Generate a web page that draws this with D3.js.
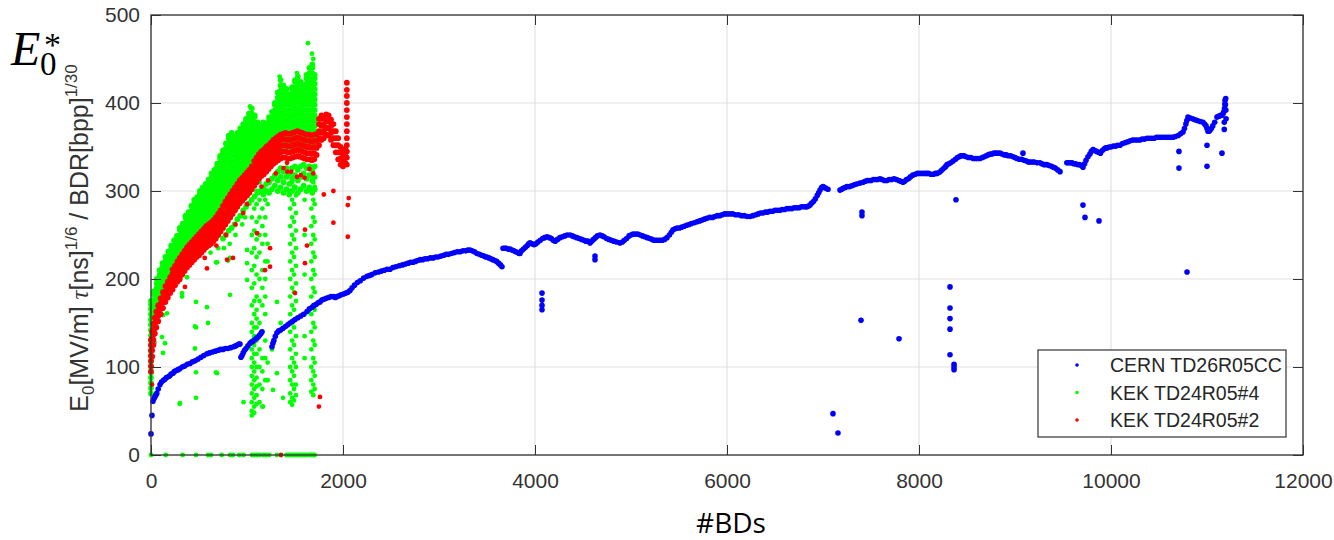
<!DOCTYPE html>
<html>
<head>
<meta charset="utf-8">
<script src="https://cdn.jsdelivr.net/npm/d3@7"></script>
<style>
  body { margin: 0; background: #fff; }
  svg { display: block; font-family: "Liberation Sans", Arial, sans-serif; }
</style>
</head>
<body>
<svg id="chart" width="1334" height="540"></svg>
<script>
// ---------------- data ----------------
const xTicks = [0, 2000, 4000, 6000, 8000, 10000, 12000];
const yTicks = [0, 100, 200, 300, 400, 500];
const seriesNames = ["CERN TD26R05CC", "KEK TD24R05#4", "KEK TD24R05#2"];
const seriesColors = ["#0000ff", "#00ff00", "#ff0000"];

// CERN TD26R05CC: conditioning trace [#BDs, E0*]
const cernTrace = [
  [0,24],[10,45],[20,61],[30,64],[40,66],[50,68],[60,70],[75,75],[94,80],[110,83],[130,85],[145,86],
  [160,88],[180,89],[195,90],[210,92],[229,93],[245,95],[265,96],[282,97],[300,98],[325,100],[350,101],
  [378,103],[406,104],[432,106],[460,107],[490,109],[520,111],[550,113],[583,115],[610,116],[640,117],
  [670,118],[700,119],[725,120],[750,120],[775,121],[800,121],[830,122],[860,123],[880,124],[900,125],
  [915,126],[927,126],
  [937,111],[948,113],[960,116],[975,119],[990,121],[1010,124],[1031,127],[1045,128],[1060,129],
  [1080,131],[1100,133],[1115,134],[1130,136],[1145,138],[1156,140],
  [1260,123],[1270,127],[1280,130],[1295,135],[1312,139],[1330,141],[1350,142],[1375,144],[1400,146],
  [1425,148],[1448,150],[1475,152],[1500,154],[1530,156],[1560,158],[1590,160],[1625,163],[1650,166],
  [1680,168],[1700,170],[1720,171],[1740,173],[1760,174],[1780,176],[1800,177],[1825,178],[1850,179],
  [1875,180],[1900,180],[1920,179],[1937,180],[1960,181],[1980,182],[2005,183],[2030,184],[2050,185],
  [2073,187],[2095,190],[2120,193],[2150,196],[2180,198],[2215,201],[2250,203],[2275,204],[2300,205],
  [2335,207],[2370,208],[2400,209],[2430,210],[2460,211],[2490,211],[2520,213],[2550,214],[2585,215],
  [2620,216],[2650,217],[2680,218],[2705,219],[2729,219],[2755,220],[2780,221],[2805,222],[2830,222],
  [2855,223],[2880,223],[2910,224],[2940,224],[2965,225],[2990,225],[3020,226],[3050,227],[3075,228],
  [3100,228],[3130,229],[3160,230],[3190,231],[3220,231],[3250,232],[3280,232],[3300,233],[3323,233],
  [3345,232],[3370,231],[3395,229],[3420,228],[3445,227],[3470,226],[3485,225],[3500,225],[3520,224],
  [3540,223],[3560,222],[3580,221],[3600,220],[3620,218],[3640,216],[3656,214],
  [3667,235],[3685,235],[3700,235],[3720,234],[3740,234],[3760,233],[3780,232],[3800,231],[3820,230],
  [3835,229],[3844,229],[3860,232],[3880,234],[3900,236],[3920,238],[3935,240],[3948,241],[3970,240],
  [3990,239],[4010,240],[4030,242],[4055,244],[4080,246],[4100,247],[4125,248],[4150,247],[4170,246],
  [4190,244],[4210,243],[4235,245],[4260,247],[4285,248],[4310,249],[4335,250],[4365,250],[4390,249],
  [4410,248],[4435,247],[4460,246],[4485,245],[4510,244],[4530,243],[4550,243],[4573,241],[4590,243],
  [4610,245],[4630,247],[4650,249],[4677,250],[4700,249],[4720,248],[4745,246],[4770,245],[4795,244],
  [4820,243],[4850,242],[4885,241],[4910,242],[4930,244],[4955,246],[4980,249],[5000,250],[5021,251],
  [5045,251],[5070,251],[5095,250],[5120,249],[5145,248],[5170,247],[5195,246],[5220,245],[5240,244],
  [5260,244],[5280,244],[5302,244],[5325,244],[5350,245],[5375,247],[5400,250],[5420,253],[5438,256],
  [5460,257],[5480,258],[5505,258],[5530,259],[5555,260],[5580,261],[5605,262],[5630,263],[5660,264],
  [5688,265],[5715,266],[5740,267],[5765,268],[5790,269],[5820,270],[5850,270],[5875,271],[5900,272],
  [5925,272],[5950,273],[5975,274],[6000,274],[6030,274],[6060,274],[6090,273],[6120,273],[6150,272],
  [6180,272],[6210,271],[6240,271],[6270,272],[6300,273],[6325,274],[6350,275],[6375,275],[6400,276],
  [6425,276],[6448,277],[6475,277],[6500,278],[6525,278],[6552,278],[6575,279],[6600,279],[6625,280],
  [6650,280],[6675,280],[6700,281],[6725,281],[6750,281],[6775,282],[6800,282],[6820,282],[6833,282],
  [6850,283],[6865,284],[6880,286],[6900,288],[6920,291],[6940,295],[6955,298],[6969,301],[6985,304],
  [7000,305],[7015,304],[7030,303],[7052,302],
  [7177,301],[7195,302],[7210,303],[7230,304],[7250,305],[7275,305],[7300,306],[7325,307],[7350,308],
  [7385,309],[7417,310],[7440,311],[7460,312],[7480,312],[7500,312],[7525,313],[7550,313],[7570,313],
  [7594,314],[7615,313],[7640,312],[7665,312],[7690,313],[7715,313],[7740,314],[7765,313],[7790,312],
  [7810,311],[7833,310],[7850,311],[7870,313],[7890,314],[7910,316],[7935,318],[7960,319],[7985,320],
  [8010,320],[8035,320],[8060,320],[8080,320],[8100,320],[8125,319],[8150,319],[8170,320],[8188,320],
  [8210,321],[8230,323],[8250,325],[8270,327],[8280,328],[8292,330],[8310,331],[8330,332],[8355,334],
  [8380,336],[8400,338],[8420,339],[8435,340],[8448,340],[8470,340],[8490,339],[8515,338],[8540,338],
  [8565,337],[8590,337],[8610,337],[8635,337],[8660,338],[8680,339],[8700,340],[8720,341],[8740,342],
  [8760,342],[8780,343],[8800,343],[8820,343],[8844,343],[8865,342],[8890,341],[8910,341],[8930,340],
  [8955,340],[8979,339],[9000,338],[9020,337],[9045,336],[9070,336],[9095,335],[9120,334],[9140,333],
  [9156,333],[9180,333],[9200,333],[9230,332],[9260,332],[9280,331],[9300,330],[9315,330],[9333,330],
  [9355,329],[9380,328],[9400,327],[9420,326],[9445,324],[9469,322],
  [9540,332],[9560,332],[9578,332],[9594,332],[9612,331],[9630,331],[9650,330],[9670,330],[9690,329],
  [9708,327],[9725,331],[9740,335],[9760,339],[9780,342],[9795,345],[9813,347],[9830,346],[9850,345],
  [9870,344],[9890,343],[9910,346],[9930,348],[9945,349],[9958,349],[9980,350],[10000,350],[10025,351],
  [10050,351],[10070,352],[10094,352],[10120,354],[10150,355],[10175,356],[10200,357],[10225,358],
  [10250,358],[10275,358],[10302,358],[10325,359],[10350,359],[10375,360],[10400,360],[10425,360],
  [10450,360],[10475,361],[10500,361],[10525,361],[10550,361],[10575,361],[10600,361],[10625,361],
  [10646,361],[10670,362],[10700,363],[10725,365],[10750,367],[10765,371],[10780,376],[10790,380],
  [10802,384],[10825,383],[10850,382],[10875,381],[10900,380],[10930,379],[10958,378],[10975,376],
  [10990,374],[11000,371],[11010,368],[11020,368],[11031,369],[11045,371],[11060,374],[11080,378],
  [11104,384],[11118,385],[11130,385],[11143,386],[11156,386],[11168,388],[11175,390],[11180,370],
  [11180,378],[11183,394],[11186,399],[11188,403],[11192,398],[11195,405],[11197,392],[11199,382]
];
const cernOutliers = [
  [4073,184],[4073,176],[4073,170],[4073,165],[4625,226],[4625,222],[7406,276],[7406,272],
  [7396,153],[7792,132],[7104,47],[7156,25],[8385,290],[8323,191],[8323,167],[8323,155],[8323,143],
  [8323,114],[8365,103],[8365,100],[8365,97],[9083,343],[9708,284],[9729,270],[9875,266],
  [10792,208],[10708,345],[10708,326],[11000,352],[11000,328],[11156,343]
];

// KEK TD24R05#4: dense band, listed as [#BDs, E0* values at that count]
const kek4Band = [
  [0,[70,76,82,88,94,100,106,112,118,124,130,136,142,148,154,160,166,171,175]],
  [30,[128,140,146,152,158,164,170,176,182,186]],
  [60,[160,166,172,178,184,190,195,200]],
  [90,[170,176,182,188,194,200,205,210]],
  [120,[178,184,190,196,202,208,213,218]],
  [150,[186,192,198,204,210,215,220,225]],
  [180,[193,199,205,211,217,222,227,231]],
  [210,[199,205,211,217,223,229,234,238]],
  [240,[204,210,216,222,228,234,239,244]],
  [270,[209,215,221,227,233,239,244,249]],
  [300,[214,220,226,232,238,244,250,256,258]],
  [330,[218,224,230,236,242,248,254,260,263]],
  [360,[222,228,234,240,246,252,258,264,270,272]],
  [390,[226,232,238,244,250,256,262,268,273,276]],
  [420,[229,235,241,247,253,259,265,271,277,283]],
  [450,[232,238,244,250,256,262,268,274,280,286,290]],
  [480,[235,241,247,253,259,265,271,277,283,289,293]],
  [510,[238,244,250,256,262,268,274,280,286,292,297,300]],
  [540,[241,247,253,259,265,271,277,283,289,295,300,304]],
  [570,[244,250,256,262,268,274,280,286,292,298,304,308]],
  [600,[247,253,259,265,271,277,283,289,295,301,307,313]],
  [630,[249,255,261,267,273,279,285,291,297,303,309,315,320]],
  [660,[252,258,264,270,276,282,288,294,300,306,312,318,324]],
  [690,[256,262,268,274,280,286,292,298,304,310,316,322,328,331]],
  [720,[260,266,272,278,284,290,296,302,308,314,320,326,332,337,340]],
  [750,[246,265,271,277,283,289,295,301,307,313,319,325,331,337,343,346]],
  [780,[250,270,276,282,288,294,300,306,312,318,324,330,336,342,348,354]],
  [810,[255,276,282,288,294,300,306,312,318,324,330,336,342,348,354,360,363]],
  [840,[258,280,286,292,298,304,310,316,322,328,334,340,346,352,358,364,366]],
  [870,[262,286,292,298,304,310,316,322,328,334,340,346,352,358,361]],
  [900,[268,290,296,302,308,314,320,326,332,338,344,350,356,362,366]],
  [930,[272,294,300,306,312,318,324,330,336,342,348,354,360,366,371]],
  [960,[278,298,304,310,316,322,328,334,340,346,352,358,364,370,376]],
  [990,[282,302,308,314,320,326,332,338,344,350,356,362,368,374,380,382]],
  [1020,[286,306,312,318,324,330,336,342,348,354,360,366,372,378,384,388]],
  [1050,[290,310,316,322,328,334,340,346,352,358,364,370,376,382,388,394]],
  [1080,[294,318,324,330,336,342,348,354,360,366,372,378,384,386]],
  [1110,[298,322,328,334,340,346,352,358,364,370,376,378]],
  [1140,[300,326,332,338,344,350,356,362,368,374]],
  [1170,[296,304,330,336,342,348,354,360,366,372,378]],
  [1200,[300,308,334,340,346,352,358,364,370,376]],
  [1230,[298,310,338,344,350,356,362,368,374,380,384]],
  [1260,[302,314,342,348,354,360,366,372,378,384,390]],
  [1290,[306,318,344,350,356,362,368,374,380,386,392,398,400]],
  [1320,[300,312,322,346,352,358,364,370,376,382,388,394,400,406,412]],
  [1350,[304,316,326,348,354,360,366,372,378,384,390,396,402,408,414,420,426]],
  [1380,[298,310,322,350,356,362,368,374,380,386,392,398,404,410,416,420]],
  [1410,[302,316,326,350,356,362,368,374,380,386,392,398,404,410,416]],
  [1440,[296,308,320,350,356,362,368,374,380,386,392,398,404,410]],
  [1470,[300,314,326,350,356,362,368,374,380,386,392,398,404,410,416,418]],
  [1500,[304,318,328,352,358,364,370,376,382,388,394,400,406,412,418,424,426]],
  [1530,[298,312,324,352,358,364,370,376,382,388,394,400,406,412,418,424,430]],
  [1560,[302,316,328,352,358,364,370,376,382,388,394,400,406,412,418,424]],
  [1590,[306,320,330,350,356,362,368,374,380,386,392,398,404,410,416,420]],
  [1620,[300,314,326,350,356,362,368,374,380,386,392,398,404,410,416,422,428,432]],
  [1650,[304,318,328,350,356,362,368,374,380,386,392,398,404,410,416,422,428,434,440]],
  [1680,[298,312,324,350,356,362,368,374,380,386,392,398,404,410,416,422,428,434,440,444]],
  [1705,[302,316,328,350,356,362,368,374,380,386,392,398,404,410,416,422,428,432]]
];
// KEK TD24R05#4: vertical streaks of low values
const kek4Streaks = [
  [1050,[290,270,250,230,210,190,170,150,140,130,120,110,100,90,80,70,60,50,45]],
  [1075,[280,255,235,215,195,175,160,145,135,125,115,105,95,85,75,65,55,48]],
  [1100,[300,285,265,245,225,205,180,165,155,145,130,115,100,88,78,68,58]],
  [1130,[310,290,270,250,230,200,175,150,120,100,80,60]],
  [1160,[300,280,260,240,210,190,170,140,110,95,75,55]],
  [1190,[290,270,250,220,200,180,160,130,110,85]],
  [1215,[300,285,240,220,105,85]],
  [1450,[300,280,260,240,220,200,180,160,140,120,100,85,70,60]],
  [1470,[310,290,270,250,230,210,190,170,150,130,110,95,80,65,57]],
  [1490,[305,285,265,245,225,205,185,165,145,125,105,90,75,62]],
  [1510,[295,275,255,235,215,195,175,155,135,115,100,80,68]],
  [1600,[290,250,205,160,135,110]],
  [1670,[300,280,260,240,220,200,180,160,140,120,100,85,72]],
  [1690,[310,290,270,250,230,210,190,170,150,130,110,95,80,68]],
  [1705,[305,285,265,245,225,205,185,165,145,125,105,90,75]]
];
const kek4Scatter = [
  [302,59],[469,65],[469,94],[469,145],[469,174],[583,168],[594,150],[677,94],[677,219],[823,182],
  [823,224],[125,116],[115,134],[125,159],[146,127],[167,161],[323,184],[323,180],[375,202],[458,146],
  [458,121],[298,58],[964,60],[688,219],[688,93],[802,221],[1000,233],[1000,218],[1000,199],
  [1208,85],[1167,55],[1312,93],[1271,74],[1375,65],[1312,174],[1260,120],[1350,150],
  [620,230],[700,235],[760,235],[820,240],[880,250],[950,262],[980,270],
  [1635,468],[1677,456],[1690,450],[1031,396],[1340,430],[1520,434]
];
const kek4Zero = [0,153,330,469,594,625,736,823,854,920,964,1052,1075,1104,1130,1167,1200,1230,
  1312,1410,1430,1450,1470,1490,1510,1530,1550,1570,1590,1610,1630,1650,1670,1690,1705];

// KEK TD24R05#2: dense band, listed as [#BDs, E0* values at that count]
const kek2Band = [
  [0,[95,101,107,113,119,125,131]],[12,[112,119,126,133,140]],[25,[125,131,137,143,149]],
  [40,[138,144,150,156]],[55,[145,151,157,163]],[75,[152,158,164,170]],[100,[160,166,172,178]],
  [125,[167,173,179,185]],[150,[174,180,186,192]],[175,[179,185,191,197]],[200,[184,190,196,202]],
  [225,[188,194,200,206,211]],[250,[193,199,205,211,215]],[275,[197,203,209,215,220]],
  [300,[201,207,213,219,224]],[325,[205,211,217,223,228]],[350,[209,215,221,227,232]],
  [375,[213,219,225,231,236]],[400,[216,222,228,234,239]],[425,[219,225,231,237,242]],
  [450,[222,228,234,240,245]],[475,[225,231,237,243,248]],[500,[227,233,239,245,251]],
  [525,[230,236,242,248,254]],[550,[233,239,245,251,257]],[575,[236,242,248,254,260]],
  [600,[238,244,250,256,262]],[625,[240,246,252,258,264]],[650,[243,249,255,261,267]],
  [675,[246,252,258,264,270]],[700,[250,256,262,268,274]],[725,[254,260,266,272,278]],
  [750,[258,264,270,276,283]],[775,[262,268,275,282,288]],[800,[266,272,279,286,292]],
  [825,[270,276,283,290,296]],[850,[274,280,287,294,300]],[875,[278,284,291,298,304]],
  [900,[282,288,295,302,308]],[925,[286,292,299,306,312]],[950,[289,295,302,309,315]],
  [975,[292,298,305,312,318]],[1000,[295,301,308,315,321]],[1025,[298,304,311,318,324]],
  [1050,[302,308,315,322,328]],[1075,[306,313,320,327,334]],[1100,[310,317,324,331,338]],
  [1125,[314,321,328,335,342]],[1150,[317,324,331,338,345]],[1175,[319,326,333,340,347]],
  [1200,[322,329,336,343,350]],[1225,[325,332,339,346,352]],[1250,[328,335,342,349,355]],
  [1275,[331,338,345,352,358]],[1300,[333,340,347,354,360]],[1325,[335,342,349,356,362]],
  [1350,[337,344,351,358,364]],[1375,[338,345,352,359,365]],[1400,[338,345,352,359,366]],
  [1425,[337,344,351,358,365]],[1450,[337,344,351,358,365]],[1475,[338,345,352,359,366]],
  [1500,[339,346,353,360,367]],[1525,[340,347,354,361,368]],[1550,[339,346,353,360,367]],
  [1575,[338,345,352,359,366]],[1600,[337,344,351,358,365]],[1625,[336,343,350,357,364]],
  [1650,[336,343,350,357,364]],[1675,[335,342,349,356,363]],[1700,[336,343,350,357,364]],
  [1725,[341,349,357,365]],[1750,[352,360,368,376,382]],[1775,[358,366,374,382,386]],
  [1800,[360,368,376,384]],[1825,[364,372,380,387]],[1850,[363,371,379,386]],
  [1875,[358,366,374,381]],[1900,[352,360,368,376]],[1925,[344,352,360,368]],
  [1950,[336,344,352,360]],[1975,[330,337,344,350]],[2000,[328,334,340,346]],[2025,[332,340,348]],
  [2040,[330,338,345,352,360,368,376,384,392,400,408,415,423]]
];
const kek2Scatter = [
  [302,199],[354,191],[406,218],[583,212],[560,224],[792,222],[854,224],[1240,214],[1240,235],
  [1500,184],[1625,238],[1604,218],[1604,256],[1104,252],[1187,210],[10,80],[1417,332],[1521,316],
  [1749,55],[1760,66],[1800,296],[1900,300],[1900,264],[2050,248],[2050,284],[2060,292],[1354,0],
  [680,238],[780,250],[880,262],[960,275],[1000,285],[1150,305],[1220,312],[1300,320],[1380,326],
  [1420,322],[1460,322],[1560,318],[1600,315],[1650,325],[1690,320]
];

// ---------------- layout ----------------
const svg = d3.select("#chart");
const x = d3.scaleLinear().domain([0, 12000]).range([151, 1303]);
const y = d3.scaleLinear().domain([0, 500]).range([455, 15]);
const axisColor = "#333";
const gridColor = "#e2e2e2";

// grid
const grid = svg.append("g");
grid.selectAll(".gx").data(xTicks).join("line")
  .attr("x1", d => x(d)).attr("x2", d => x(d)).attr("y1", y(0)).attr("y2", y(500))
  .attr("stroke", gridColor).attr("stroke-width", 1.2);
grid.selectAll(".gy").data(yTicks).join("line")
  .attr("y1", d => y(d)).attr("y2", d => y(d)).attr("x1", x(0)).attr("x2", x(12000))
  .attr("stroke", gridColor).attr("stroke-width", 1.2);

// point marks
const flatCols = cols => cols.flatMap(([bd, vals]) => vals.map(v => [bd, v]));
function dots(data, color, r) {
  svg.append("g").selectAll("circle").data(data).join("circle")
    .attr("cx", d => x(d[0])).attr("cy", d => y(d[1])).attr("r", r).attr("fill", color);
}
dots(flatCols(kek4Band), seriesColors[1], 2.9);
dots(flatCols(kek4Streaks).concat(kek4Scatter, kek4Zero.map(b => [b, 0])), seriesColors[1], 2.4);
dots(flatCols(kek2Band), seriesColors[2], 2.9);
dots(kek2Scatter, seriesColors[2], 2.4);
dots(cernTrace.concat(cernOutliers), seriesColors[0], 2.8);

// axes (ticks pointing inward, box on all sides)
const fmt = d3.format("d");
const styleAxis = g => {
  g.select(".domain").remove();
  g.selectAll(".tick line").attr("stroke", axisColor);
  g.selectAll("text").attr("fill", "#333").attr("font-size", 21)
    .attr("font-family", '"Liberation Sans", Arial, sans-serif');
};
svg.append("g").attr("transform", `translate(0,${y(0)})`)
  .call(d3.axisBottom(x).tickValues(xTicks).tickFormat(fmt).tickSize(-10).tickPadding(18))
  .call(styleAxis);
svg.append("g").attr("transform", `translate(0,${y(500)})`)
  .call(d3.axisTop(x).tickValues(xTicks).tickFormat("").tickSize(-10))
  .call(styleAxis);
svg.append("g").attr("transform", `translate(${x(0)},0)`)
  .call(d3.axisLeft(y).tickValues(yTicks).tickFormat(fmt).tickSize(-10).tickPadding(11))
  .call(styleAxis);
svg.append("g").attr("transform", `translate(${x(12000)},0)`)
  .call(d3.axisRight(y).tickValues(yTicks).tickFormat("").tickSize(-10))
  .call(styleAxis);
svg.append("rect").attr("x", x(0)).attr("y", y(500))
  .attr("width", x(12000) - x(0)).attr("height", y(0) - y(500))
  .attr("fill", "none").attr("stroke", axisColor).attr("stroke-width", 1.3);

// legend
const lg = svg.append("g");
lg.append("rect").attr("x", 1038).attr("y", 350).attr("width", 248).attr("height", 87)
  .attr("fill", "#fff").attr("stroke", axisColor).attr("stroke-width", 1.2);
seriesNames.forEach((name, i) => {
  const cy = 365 + i * 27.5;
  lg.append("circle").attr("cx", 1077).attr("cy", cy).attr("r", 1.8).attr("fill", seriesColors[i]);
  lg.append("text").attr("x", 1110).attr("y", cy + 7).attr("font-size", 19.5).attr("fill", "#262626")
    .text(name);
});

// y axis label
const yl = svg.append("text").attr("transform", "translate(88,238) rotate(-90)")
  .attr("text-anchor", "middle").attr("font-size", 25).attr("fill", "#333");
yl.append("tspan").text("E");
yl.append("tspan").attr("font-size", 17).attr("dy", 6).text("0");
yl.append("tspan").attr("dy", -6).text("[MV/m] ");
yl.append("tspan").attr("font-style", "italic").attr("font-family", '"Liberation Serif", serif').text("τ");
yl.append("tspan").text("[ns]");
yl.append("tspan").attr("font-size", 17).attr("dy", -11).text("1/6");
yl.append("tspan").attr("dy", 11).text(" / BDR[bpp]");
yl.append("tspan").attr("font-size", 17).attr("dy", -11).text("1/30");

// quantity symbol at top left: E with subscript 0 and superscript *
const sym = svg.append("text").attr("font-family", '"Liberation Serif", "DejaVu Serif", serif')
  .attr("fill", "#000");
sym.append("tspan").attr("x", 11).attr("y", 65).attr("font-size", 48).attr("font-style", "italic").text("E");
sym.append("tspan").attr("x", 40).attr("y", 75).attr("font-size", 33).text("0");
sym.append("tspan").attr("x", 44).attr("y", 56).attr("font-size", 34).text("*");

// x axis title
svg.append("text").attr("x", 731).attr("y", 533).attr("text-anchor", "middle")
  .attr("font-family", '"Open Sans", "Noto Sans", sans-serif').attr("font-size", 28).attr("fill", "#000")
  .text("#BDs");
</script>
</body>
</html>
